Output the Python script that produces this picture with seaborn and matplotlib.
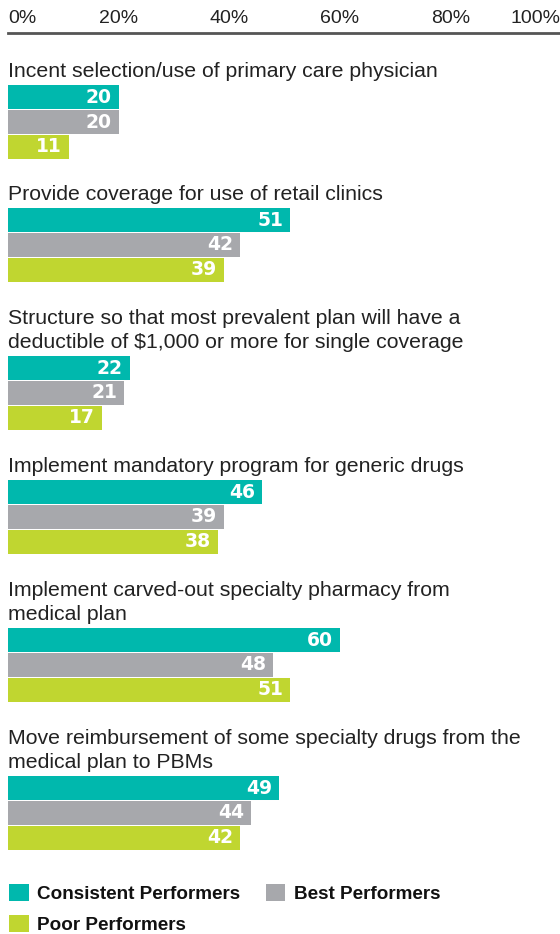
import matplotlib
matplotlib.use("Agg")
import matplotlib.pyplot as plt
from matplotlib.patches import Patch
import seaborn as sns
import pandas as pd

# Survey items (one panel each) and the share of each employer group
questions = [
    ["Incent selection/use of primary care physician"],
    ["Provide coverage for use of retail clinics"],
    ["Structure so that most prevalent plan will have a",
     "deductible of $1,000 or more for single coverage"],
    ["Implement mandatory program for generic drugs"],
    ["Implement carved-out specialty pharmacy from", "medical plan"],
    ["Move reimbursement of some specialty drugs from the",
     "medical plan to PBMs"],
]
groups = ["Consistent Performers", "Best Performers", "Poor Performers"]
consistent = [20, 51, 22, 46, 60, 49]
best = [20, 42, 21, 39, 48, 44]
poor = [11, 39, 17, 38, 51, 42]
tick_values = [0, 20, 40, 60, 80, 100]
tick_labels = ["0%", "20%", "40%", "60%", "80%", "100%"]

colors = {"Consistent Performers": "#00B8AD",
          "Best Performers": "#A7A8AC",
          "Poor Performers": "#C0D630"}

sns.set_theme(style="white")
plt.rcParams["font.family"] = ["Liberation Sans", "DejaVu Sans"]

W, H = 560, 934
fig = plt.figure(figsize=(W / 100, H / 100), dpi=100)


def fy(px):
    return 1 - px / H


x0 = 8 / W
xw = 553 / W

# Shared percentage scale along the top
ax_top = fig.add_axes([x0, fy(850), xw, (850 - 33) / H])
ax_top.set_xlim(0, 100)
ax_top.set_ylim(0, 1)
ax_top.patch.set_alpha(0)
for side in ["left", "right", "bottom"]:
    ax_top.spines[side].set_visible(False)
ax_top.spines["top"].set_color("#555555")
ax_top.spines["top"].set_linewidth(2)
ax_top.xaxis.tick_top()
ax_top.set_xticks(tick_values)
ax_top.set_xticklabels(tick_labels, fontsize=14, color="#222222")
ax_top.tick_params(axis="x", length=0, pad=4)
ax_top.set_yticks([])
tl = ax_top.get_xticklabels()
tl[0].set_ha("left")
tl[-1].set_ha("right")

bar_tops = [85, 208, 356, 480, 628, 776]
panel_h = 74

for i, lines in enumerate(questions):
    top = bar_tops[i]
    ax = fig.add_axes([x0, fy(top + panel_h), xw, panel_h / H])
    df = pd.DataFrame({"group": groups,
                       "value": [consistent[i], best[i], poor[i]]})
    sns.barplot(data=df, x="value", y="group", hue="group",
                palette=colors, width=0.96, orient="h", saturation=1,
                linewidth=0, legend=False, ax=ax)
    ax.set_xlim(0, 100)
    ax.set_ylim(2.5, -0.5)
    ax.set_axis_off()
    for j, v in enumerate(df["value"]):
        ax.annotate(str(v), xy=(v, j), xytext=(-5, 0),
                    textcoords="offset points", ha="right", va="center",
                    color="white", fontsize=13.5, fontweight="bold",
                    family="DejaVu Sans")
    n = len(lines)
    for k, line in enumerate(lines):
        base = top - 8 - 24 * (n - 1 - k)
        fig.text(x0, fy(base), line, ha="left", va="baseline",
                 fontsize=15.3, color="#222222")

handles = [Patch(facecolor=colors[g], edgecolor="none", label=g)
           for g in ["Consistent Performers", "Poor Performers",
                     "Best Performers"]]
leg = fig.legend(handles=handles, ncol=2, loc="upper left",
                 bbox_to_anchor=(3 / W, fy(878)), frameon=False,
                 prop={"family": "Liberation Sans", "weight": "bold",
                       "size": 13.6},
                 handlelength=1.05, handleheight=1.05, handletextpad=0.45,
                 columnspacing=1.35, labelspacing=0.62, borderaxespad=0,
                 borderpad=0.3)
for t in leg.get_texts():
    t.set_color("#111111")

fig.savefig("out.png", dpi=100)
